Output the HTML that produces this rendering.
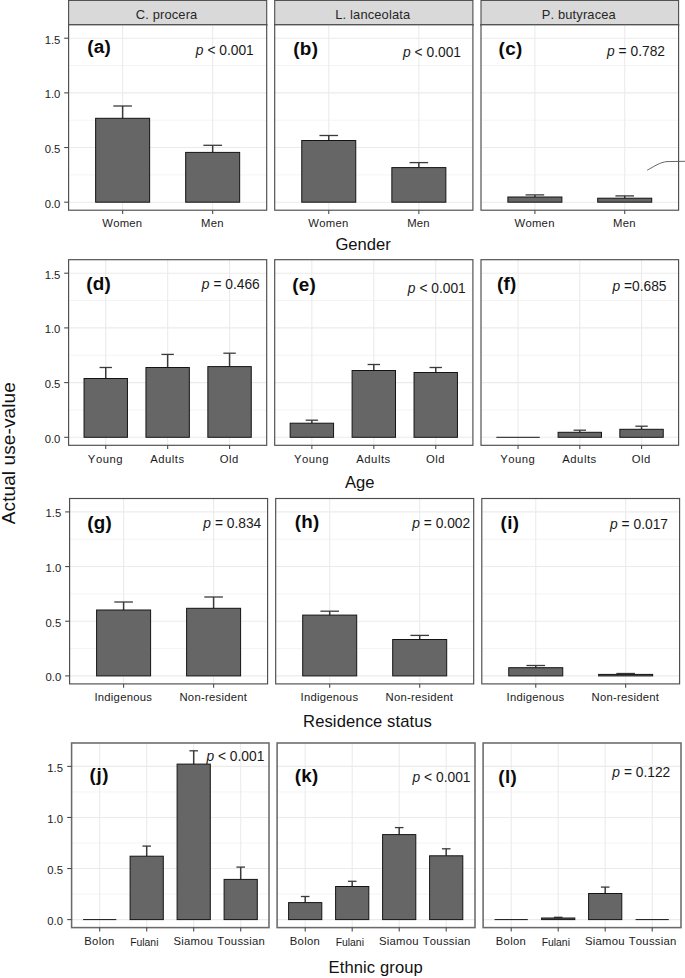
<!DOCTYPE html>
<html><head><meta charset="utf-8"><title>Actual use-value</title>
<style>
html,body{margin:0;padding:0;background:#ffffff;}
body{width:685px;height:978px;overflow:hidden;font-family:"Liberation Sans",sans-serif;}
svg{display:block;}
svg text{font-kerning:none;}
</style></head><body>
<svg width="685" height="978" viewBox="0 0 685 978" font-family="'Liberation Sans', sans-serif">
<rect x="0" y="0" width="685" height="978" fill="#ffffff"/>
<rect x="68.6" y="0.4" width="198.1" height="24.4" fill="#d9d9d9" stroke="#4c4c4c" stroke-width="1.1"/>
<text x="166.6" y="19.1" font-size="12.9" text-anchor="middle" fill="#262626" letter-spacing="0.15">C. procera</text>
<rect x="274.7" y="0.4" width="198.2" height="24.4" fill="#d9d9d9" stroke="#4c4c4c" stroke-width="1.1"/>
<text x="372.8" y="19.1" font-size="12.9" text-anchor="middle" fill="#262626" letter-spacing="0.15">L. lanceolata</text>
<rect x="481.0" y="0.4" width="197.6" height="24.4" fill="#d9d9d9" stroke="#4c4c4c" stroke-width="1.1"/>
<text x="578.8" y="19.1" font-size="12.9" text-anchor="middle" fill="#262626" letter-spacing="0.15">P. butyracea</text>
<line x1="68.05" x2="267.25" y1="24.9" y2="24.9" stroke="#4c4c4c" stroke-width="1.9"/>
<line x1="274.15" x2="473.45" y1="24.9" y2="24.9" stroke="#4c4c4c" stroke-width="1.9"/>
<line x1="480.45" x2="679.15" y1="24.9" y2="24.9" stroke="#4c4c4c" stroke-width="1.9"/>
<rect x="68.6" y="24.8" width="198.1" height="185.4" fill="#ffffff"/>
<line x1="68.6" x2="266.7" y1="174.87" y2="174.87" stroke="#f3f3f3" stroke-width="0.9"/>
<line x1="68.6" x2="266.7" y1="120.20" y2="120.20" stroke="#f3f3f3" stroke-width="0.9"/>
<line x1="68.6" x2="266.7" y1="65.53" y2="65.53" stroke="#f3f3f3" stroke-width="0.9"/>
<line x1="68.6" x2="266.7" y1="202.20" y2="202.20" stroke="#ebebeb" stroke-width="1.1"/>
<line x1="68.6" x2="266.7" y1="147.53" y2="147.53" stroke="#ebebeb" stroke-width="1.1"/>
<line x1="68.6" x2="266.7" y1="92.87" y2="92.87" stroke="#ebebeb" stroke-width="1.1"/>
<line x1="68.6" x2="266.7" y1="38.20" y2="38.20" stroke="#ebebeb" stroke-width="1.1"/>
<line x1="122.63" x2="122.63" y1="24.8" y2="210.2" stroke="#ebebeb" stroke-width="1.1"/>
<line x1="212.67" x2="212.67" y1="24.8" y2="210.2" stroke="#ebebeb" stroke-width="1.1"/>
<line x1="122.63" x2="122.63" y1="106.00" y2="118.30" stroke="#3a3a3a" stroke-width="1.5"/>
<line x1="113.33" x2="131.93" y1="106.00" y2="106.00" stroke="#3a3a3a" stroke-width="1.3"/>
<rect x="95.63" y="118.30" width="54.00" height="83.90" fill="#666666" stroke="#141414" stroke-width="1"/>
<line x1="212.67" x2="212.67" y1="145.30" y2="152.40" stroke="#3a3a3a" stroke-width="1.5"/>
<line x1="203.37" x2="221.97" y1="145.30" y2="145.30" stroke="#3a3a3a" stroke-width="1.3"/>
<rect x="185.67" y="152.40" width="54.00" height="49.80" fill="#666666" stroke="#141414" stroke-width="1"/>
<rect x="68.6" y="24.8" width="198.1" height="185.4" fill="none" stroke="#4c4c4c" stroke-width="1.15"/>
<line x1="122.63" x2="122.63" y1="210.2" y2="214.00" stroke="#4c4c4c" stroke-width="1.1"/>
<text x="122.33" y="227.20" font-size="11.3" text-anchor="middle" fill="#1c1c1c" letter-spacing="0.25">Women</text>
<line x1="212.67" x2="212.67" y1="210.2" y2="214.00" stroke="#4c4c4c" stroke-width="1.1"/>
<text x="212.37" y="227.20" font-size="11.3" text-anchor="middle" fill="#1c1c1c" letter-spacing="0.25">Men</text>
<text transform="translate(87.30,53.20) scale(1.0,1)" font-size="18.9" font-weight="bold" fill="#0a0a0a" letter-spacing="0.25">(a)</text>
<text x="253.80" y="55.20" font-size="13.8" text-anchor="end" fill="#1a1a1a"><tspan font-style="italic">p</tspan> &lt; 0.001</text>
<rect x="274.7" y="24.8" width="198.2" height="185.4" fill="#ffffff"/>
<line x1="274.7" x2="472.9" y1="174.87" y2="174.87" stroke="#f3f3f3" stroke-width="0.9"/>
<line x1="274.7" x2="472.9" y1="120.20" y2="120.20" stroke="#f3f3f3" stroke-width="0.9"/>
<line x1="274.7" x2="472.9" y1="65.53" y2="65.53" stroke="#f3f3f3" stroke-width="0.9"/>
<line x1="274.7" x2="472.9" y1="202.20" y2="202.20" stroke="#ebebeb" stroke-width="1.1"/>
<line x1="274.7" x2="472.9" y1="147.53" y2="147.53" stroke="#ebebeb" stroke-width="1.1"/>
<line x1="274.7" x2="472.9" y1="92.87" y2="92.87" stroke="#ebebeb" stroke-width="1.1"/>
<line x1="274.7" x2="472.9" y1="38.20" y2="38.20" stroke="#ebebeb" stroke-width="1.1"/>
<line x1="328.75" x2="328.75" y1="24.8" y2="210.2" stroke="#ebebeb" stroke-width="1.1"/>
<line x1="418.85" x2="418.85" y1="24.8" y2="210.2" stroke="#ebebeb" stroke-width="1.1"/>
<line x1="328.75" x2="328.75" y1="135.50" y2="140.50" stroke="#3a3a3a" stroke-width="1.5"/>
<line x1="319.45" x2="338.05" y1="135.50" y2="135.50" stroke="#3a3a3a" stroke-width="1.3"/>
<rect x="301.75" y="140.50" width="54.00" height="61.70" fill="#666666" stroke="#141414" stroke-width="1"/>
<line x1="418.85" x2="418.85" y1="162.60" y2="167.60" stroke="#3a3a3a" stroke-width="1.5"/>
<line x1="409.55" x2="428.15" y1="162.60" y2="162.60" stroke="#3a3a3a" stroke-width="1.3"/>
<rect x="391.85" y="167.60" width="54.00" height="34.60" fill="#666666" stroke="#141414" stroke-width="1"/>
<rect x="274.7" y="24.8" width="198.2" height="185.4" fill="none" stroke="#4c4c4c" stroke-width="1.15"/>
<line x1="328.75" x2="328.75" y1="210.2" y2="214.00" stroke="#4c4c4c" stroke-width="1.1"/>
<text x="328.45" y="227.20" font-size="11.3" text-anchor="middle" fill="#1c1c1c" letter-spacing="0.25">Women</text>
<line x1="418.85" x2="418.85" y1="210.2" y2="214.00" stroke="#4c4c4c" stroke-width="1.1"/>
<text x="418.55" y="227.20" font-size="11.3" text-anchor="middle" fill="#1c1c1c" letter-spacing="0.25">Men</text>
<text transform="translate(293.30,55.40) scale(1.0,1)" font-size="18.9" font-weight="bold" fill="#0a0a0a" letter-spacing="0.25">(b)</text>
<text x="461.00" y="56.70" font-size="13.8" text-anchor="end" fill="#1a1a1a"><tspan font-style="italic">p</tspan> &lt; 0.001</text>
<rect x="481.0" y="24.8" width="197.6" height="185.4" fill="#ffffff"/>
<line x1="481.0" x2="678.6" y1="174.87" y2="174.87" stroke="#f3f3f3" stroke-width="0.9"/>
<line x1="481.0" x2="678.6" y1="120.20" y2="120.20" stroke="#f3f3f3" stroke-width="0.9"/>
<line x1="481.0" x2="678.6" y1="65.53" y2="65.53" stroke="#f3f3f3" stroke-width="0.9"/>
<line x1="481.0" x2="678.6" y1="202.20" y2="202.20" stroke="#ebebeb" stroke-width="1.1"/>
<line x1="481.0" x2="678.6" y1="147.53" y2="147.53" stroke="#ebebeb" stroke-width="1.1"/>
<line x1="481.0" x2="678.6" y1="92.87" y2="92.87" stroke="#ebebeb" stroke-width="1.1"/>
<line x1="481.0" x2="678.6" y1="38.20" y2="38.20" stroke="#ebebeb" stroke-width="1.1"/>
<line x1="534.89" x2="534.89" y1="24.8" y2="210.2" stroke="#ebebeb" stroke-width="1.1"/>
<line x1="624.71" x2="624.71" y1="24.8" y2="210.2" stroke="#ebebeb" stroke-width="1.1"/>
<line x1="534.89" x2="534.89" y1="194.90" y2="197.00" stroke="#3a3a3a" stroke-width="1.5"/>
<line x1="525.59" x2="544.19" y1="194.90" y2="194.90" stroke="#3a3a3a" stroke-width="1.3"/>
<rect x="507.89" y="197.00" width="54.00" height="5.20" fill="#666666" stroke="#141414" stroke-width="1"/>
<line x1="624.71" x2="624.71" y1="195.90" y2="198.20" stroke="#3a3a3a" stroke-width="1.5"/>
<line x1="615.41" x2="634.01" y1="195.90" y2="195.90" stroke="#3a3a3a" stroke-width="1.3"/>
<rect x="597.71" y="198.20" width="54.00" height="4.00" fill="#666666" stroke="#141414" stroke-width="1"/>
<rect x="481.0" y="24.8" width="197.6" height="185.4" fill="none" stroke="#4c4c4c" stroke-width="1.15"/>
<line x1="534.89" x2="534.89" y1="210.2" y2="214.00" stroke="#4c4c4c" stroke-width="1.1"/>
<text x="534.59" y="227.20" font-size="11.3" text-anchor="middle" fill="#1c1c1c" letter-spacing="0.25">Women</text>
<line x1="624.71" x2="624.71" y1="210.2" y2="214.00" stroke="#4c4c4c" stroke-width="1.1"/>
<text x="624.41" y="227.20" font-size="11.3" text-anchor="middle" fill="#1c1c1c" letter-spacing="0.25">Men</text>
<text transform="translate(498.60,54.90) scale(1.0,1)" font-size="18.9" font-weight="bold" fill="#0a0a0a" letter-spacing="0.25">(c)</text>
<text x="665.00" y="56.10" font-size="13.8" text-anchor="end" fill="#1a1a1a"><tspan font-style="italic">p</tspan> = 0.782</text>
<line x1="64.20" x2="68.6" y1="202.20" y2="202.20" stroke="#4c4c4c" stroke-width="1.1"/>
<text x="60.4" y="207.50" font-size="11.3" text-anchor="end" fill="#1c1c1c">0.0</text>
<line x1="64.20" x2="68.6" y1="147.53" y2="147.53" stroke="#4c4c4c" stroke-width="1.1"/>
<text x="60.4" y="152.83" font-size="11.3" text-anchor="end" fill="#1c1c1c">0.5</text>
<line x1="64.20" x2="68.6" y1="92.87" y2="92.87" stroke="#4c4c4c" stroke-width="1.1"/>
<text x="60.4" y="98.17" font-size="11.3" text-anchor="end" fill="#1c1c1c">1.0</text>
<line x1="64.20" x2="68.6" y1="38.20" y2="38.20" stroke="#4c4c4c" stroke-width="1.1"/>
<text x="60.4" y="43.50" font-size="11.3" text-anchor="end" fill="#1c1c1c">1.5</text>
<rect x="68.6" y="259.7" width="198.1" height="185.6" fill="#ffffff"/>
<line x1="68.6" x2="266.7" y1="409.95" y2="409.95" stroke="#f3f3f3" stroke-width="0.9"/>
<line x1="68.6" x2="266.7" y1="355.25" y2="355.25" stroke="#f3f3f3" stroke-width="0.9"/>
<line x1="68.6" x2="266.7" y1="300.55" y2="300.55" stroke="#f3f3f3" stroke-width="0.9"/>
<line x1="68.6" x2="266.7" y1="437.30" y2="437.30" stroke="#ebebeb" stroke-width="1.1"/>
<line x1="68.6" x2="266.7" y1="382.60" y2="382.60" stroke="#ebebeb" stroke-width="1.1"/>
<line x1="68.6" x2="266.7" y1="327.90" y2="327.90" stroke="#ebebeb" stroke-width="1.1"/>
<line x1="68.6" x2="266.7" y1="273.20" y2="273.20" stroke="#ebebeb" stroke-width="1.1"/>
<line x1="105.74" x2="105.74" y1="259.7" y2="445.3" stroke="#ebebeb" stroke-width="1.1"/>
<line x1="167.65" x2="167.65" y1="259.7" y2="445.3" stroke="#ebebeb" stroke-width="1.1"/>
<line x1="229.56" x2="229.56" y1="259.7" y2="445.3" stroke="#ebebeb" stroke-width="1.1"/>
<line x1="105.74" x2="105.74" y1="367.50" y2="378.50" stroke="#3a3a3a" stroke-width="1.5"/>
<line x1="99.54" x2="111.94" y1="367.50" y2="367.50" stroke="#3a3a3a" stroke-width="1.3"/>
<rect x="84.04" y="378.50" width="43.40" height="58.80" fill="#666666" stroke="#141414" stroke-width="1"/>
<line x1="167.65" x2="167.65" y1="354.40" y2="367.50" stroke="#3a3a3a" stroke-width="1.5"/>
<line x1="161.45" x2="173.85" y1="354.40" y2="354.40" stroke="#3a3a3a" stroke-width="1.3"/>
<rect x="145.95" y="367.50" width="43.40" height="69.80" fill="#666666" stroke="#141414" stroke-width="1"/>
<line x1="229.56" x2="229.56" y1="353.20" y2="366.60" stroke="#3a3a3a" stroke-width="1.5"/>
<line x1="223.36" x2="235.76" y1="353.20" y2="353.20" stroke="#3a3a3a" stroke-width="1.3"/>
<rect x="207.86" y="366.60" width="43.40" height="70.70" fill="#666666" stroke="#141414" stroke-width="1"/>
<rect x="68.6" y="259.7" width="198.1" height="185.6" fill="none" stroke="#4c4c4c" stroke-width="1.15"/>
<line x1="105.74" x2="105.74" y1="445.3" y2="449.10" stroke="#4c4c4c" stroke-width="1.1"/>
<text x="105.44" y="462.90" font-size="11.3" text-anchor="middle" fill="#1c1c1c" letter-spacing="0.5">Young</text>
<line x1="167.65" x2="167.65" y1="445.3" y2="449.10" stroke="#4c4c4c" stroke-width="1.1"/>
<text x="167.35" y="462.90" font-size="11.3" text-anchor="middle" fill="#1c1c1c" letter-spacing="0.5">Adults</text>
<line x1="229.56" x2="229.56" y1="445.3" y2="449.10" stroke="#4c4c4c" stroke-width="1.1"/>
<text x="229.26" y="462.90" font-size="11.3" text-anchor="middle" fill="#1c1c1c" letter-spacing="0.5">Old</text>
<text transform="translate(86.20,290.20) scale(1.0,1)" font-size="18.9" font-weight="bold" fill="#0a0a0a" letter-spacing="0.25">(d)</text>
<text x="259.80" y="288.50" font-size="13.8" text-anchor="end" fill="#1a1a1a"><tspan font-style="italic">p</tspan> = 0.466</text>
<rect x="274.7" y="259.7" width="198.2" height="185.6" fill="#ffffff"/>
<line x1="274.7" x2="472.9" y1="409.95" y2="409.95" stroke="#f3f3f3" stroke-width="0.9"/>
<line x1="274.7" x2="472.9" y1="355.25" y2="355.25" stroke="#f3f3f3" stroke-width="0.9"/>
<line x1="274.7" x2="472.9" y1="300.55" y2="300.55" stroke="#f3f3f3" stroke-width="0.9"/>
<line x1="274.7" x2="472.9" y1="437.30" y2="437.30" stroke="#ebebeb" stroke-width="1.1"/>
<line x1="274.7" x2="472.9" y1="382.60" y2="382.60" stroke="#ebebeb" stroke-width="1.1"/>
<line x1="274.7" x2="472.9" y1="327.90" y2="327.90" stroke="#ebebeb" stroke-width="1.1"/>
<line x1="274.7" x2="472.9" y1="273.20" y2="273.20" stroke="#ebebeb" stroke-width="1.1"/>
<line x1="311.86" x2="311.86" y1="259.7" y2="445.3" stroke="#ebebeb" stroke-width="1.1"/>
<line x1="373.80" x2="373.80" y1="259.7" y2="445.3" stroke="#ebebeb" stroke-width="1.1"/>
<line x1="435.74" x2="435.74" y1="259.7" y2="445.3" stroke="#ebebeb" stroke-width="1.1"/>
<line x1="311.86" x2="311.86" y1="420.20" y2="423.20" stroke="#3a3a3a" stroke-width="1.5"/>
<line x1="305.66" x2="318.06" y1="420.20" y2="420.20" stroke="#3a3a3a" stroke-width="1.3"/>
<rect x="290.16" y="423.20" width="43.40" height="14.10" fill="#666666" stroke="#141414" stroke-width="1"/>
<line x1="373.80" x2="373.80" y1="364.50" y2="370.50" stroke="#3a3a3a" stroke-width="1.5"/>
<line x1="367.60" x2="380.00" y1="364.50" y2="364.50" stroke="#3a3a3a" stroke-width="1.3"/>
<rect x="352.10" y="370.50" width="43.40" height="66.80" fill="#666666" stroke="#141414" stroke-width="1"/>
<line x1="435.74" x2="435.74" y1="367.50" y2="372.50" stroke="#3a3a3a" stroke-width="1.5"/>
<line x1="429.54" x2="441.94" y1="367.50" y2="367.50" stroke="#3a3a3a" stroke-width="1.3"/>
<rect x="414.04" y="372.50" width="43.40" height="64.80" fill="#666666" stroke="#141414" stroke-width="1"/>
<rect x="274.7" y="259.7" width="198.2" height="185.6" fill="none" stroke="#4c4c4c" stroke-width="1.15"/>
<line x1="311.86" x2="311.86" y1="445.3" y2="449.10" stroke="#4c4c4c" stroke-width="1.1"/>
<text x="311.56" y="462.90" font-size="11.3" text-anchor="middle" fill="#1c1c1c" letter-spacing="0.5">Young</text>
<line x1="373.80" x2="373.80" y1="445.3" y2="449.10" stroke="#4c4c4c" stroke-width="1.1"/>
<text x="373.50" y="462.90" font-size="11.3" text-anchor="middle" fill="#1c1c1c" letter-spacing="0.5">Adults</text>
<line x1="435.74" x2="435.74" y1="445.3" y2="449.10" stroke="#4c4c4c" stroke-width="1.1"/>
<text x="435.44" y="462.90" font-size="11.3" text-anchor="middle" fill="#1c1c1c" letter-spacing="0.5">Old</text>
<text transform="translate(292.20,290.60) scale(1.0,1)" font-size="18.9" font-weight="bold" fill="#0a0a0a" letter-spacing="0.25">(e)</text>
<text x="465.80" y="293.20" font-size="13.8" text-anchor="end" fill="#1a1a1a"><tspan font-style="italic">p</tspan> &lt; 0.001</text>
<rect x="481.0" y="259.7" width="197.6" height="185.6" fill="#ffffff"/>
<line x1="481.0" x2="678.6" y1="409.95" y2="409.95" stroke="#f3f3f3" stroke-width="0.9"/>
<line x1="481.0" x2="678.6" y1="355.25" y2="355.25" stroke="#f3f3f3" stroke-width="0.9"/>
<line x1="481.0" x2="678.6" y1="300.55" y2="300.55" stroke="#f3f3f3" stroke-width="0.9"/>
<line x1="481.0" x2="678.6" y1="437.30" y2="437.30" stroke="#ebebeb" stroke-width="1.1"/>
<line x1="481.0" x2="678.6" y1="382.60" y2="382.60" stroke="#ebebeb" stroke-width="1.1"/>
<line x1="481.0" x2="678.6" y1="327.90" y2="327.90" stroke="#ebebeb" stroke-width="1.1"/>
<line x1="481.0" x2="678.6" y1="273.20" y2="273.20" stroke="#ebebeb" stroke-width="1.1"/>
<line x1="518.05" x2="518.05" y1="259.7" y2="445.3" stroke="#ebebeb" stroke-width="1.1"/>
<line x1="579.80" x2="579.80" y1="259.7" y2="445.3" stroke="#ebebeb" stroke-width="1.1"/>
<line x1="641.55" x2="641.55" y1="259.7" y2="445.3" stroke="#ebebeb" stroke-width="1.1"/>
<line x1="496.35" x2="539.75" y1="437.3" y2="437.3" stroke="#141414" stroke-width="1"/>
<line x1="579.80" x2="579.80" y1="430.20" y2="432.30" stroke="#3a3a3a" stroke-width="1.5"/>
<line x1="573.60" x2="586.00" y1="430.20" y2="430.20" stroke="#3a3a3a" stroke-width="1.3"/>
<rect x="558.10" y="432.30" width="43.40" height="5.00" fill="#666666" stroke="#141414" stroke-width="1"/>
<line x1="641.55" x2="641.55" y1="426.20" y2="429.30" stroke="#3a3a3a" stroke-width="1.5"/>
<line x1="635.35" x2="647.75" y1="426.20" y2="426.20" stroke="#3a3a3a" stroke-width="1.3"/>
<rect x="619.85" y="429.30" width="43.40" height="8.00" fill="#666666" stroke="#141414" stroke-width="1"/>
<rect x="481.0" y="259.7" width="197.6" height="185.6" fill="none" stroke="#4c4c4c" stroke-width="1.15"/>
<line x1="518.05" x2="518.05" y1="445.3" y2="449.10" stroke="#4c4c4c" stroke-width="1.1"/>
<text x="517.75" y="462.90" font-size="11.3" text-anchor="middle" fill="#1c1c1c" letter-spacing="0.5">Young</text>
<line x1="579.80" x2="579.80" y1="445.3" y2="449.10" stroke="#4c4c4c" stroke-width="1.1"/>
<text x="579.50" y="462.90" font-size="11.3" text-anchor="middle" fill="#1c1c1c" letter-spacing="0.5">Adults</text>
<line x1="641.55" x2="641.55" y1="445.3" y2="449.10" stroke="#4c4c4c" stroke-width="1.1"/>
<text x="641.25" y="462.90" font-size="11.3" text-anchor="middle" fill="#1c1c1c" letter-spacing="0.5">Old</text>
<text transform="translate(496.90,290.40) scale(1.0,1)" font-size="18.9" font-weight="bold" fill="#0a0a0a" letter-spacing="0.25">(f)</text>
<text x="666.50" y="290.70" font-size="13.8" text-anchor="end" fill="#1a1a1a"><tspan font-style="italic">p</tspan> =0.685</text>
<line x1="64.20" x2="68.6" y1="437.30" y2="437.30" stroke="#4c4c4c" stroke-width="1.1"/>
<text x="60.4" y="442.60" font-size="11.3" text-anchor="end" fill="#1c1c1c">0.0</text>
<line x1="64.20" x2="68.6" y1="382.60" y2="382.60" stroke="#4c4c4c" stroke-width="1.1"/>
<text x="60.4" y="387.90" font-size="11.3" text-anchor="end" fill="#1c1c1c">0.5</text>
<line x1="64.20" x2="68.6" y1="327.90" y2="327.90" stroke="#4c4c4c" stroke-width="1.1"/>
<text x="60.4" y="333.20" font-size="11.3" text-anchor="end" fill="#1c1c1c">1.0</text>
<line x1="64.20" x2="68.6" y1="273.20" y2="273.20" stroke="#4c4c4c" stroke-width="1.1"/>
<text x="60.4" y="278.50" font-size="11.3" text-anchor="end" fill="#1c1c1c">1.5</text>
<rect x="69.6" y="498.5" width="198.0" height="185.4" fill="#ffffff"/>
<line x1="69.6" x2="267.6" y1="648.57" y2="648.57" stroke="#f3f3f3" stroke-width="0.9"/>
<line x1="69.6" x2="267.6" y1="593.90" y2="593.90" stroke="#f3f3f3" stroke-width="0.9"/>
<line x1="69.6" x2="267.6" y1="539.23" y2="539.23" stroke="#f3f3f3" stroke-width="0.9"/>
<line x1="69.6" x2="267.6" y1="675.90" y2="675.90" stroke="#ebebeb" stroke-width="1.1"/>
<line x1="69.6" x2="267.6" y1="621.23" y2="621.23" stroke="#ebebeb" stroke-width="1.1"/>
<line x1="69.6" x2="267.6" y1="566.57" y2="566.57" stroke="#ebebeb" stroke-width="1.1"/>
<line x1="69.6" x2="267.6" y1="511.90" y2="511.90" stroke="#ebebeb" stroke-width="1.1"/>
<line x1="123.60" x2="123.60" y1="498.5" y2="683.9" stroke="#ebebeb" stroke-width="1.1"/>
<line x1="213.60" x2="213.60" y1="498.5" y2="683.9" stroke="#ebebeb" stroke-width="1.1"/>
<line x1="123.60" x2="123.60" y1="602.00" y2="610.00" stroke="#3a3a3a" stroke-width="1.5"/>
<line x1="114.30" x2="132.90" y1="602.00" y2="602.00" stroke="#3a3a3a" stroke-width="1.3"/>
<rect x="96.60" y="610.00" width="54.00" height="65.90" fill="#666666" stroke="#141414" stroke-width="1"/>
<line x1="213.60" x2="213.60" y1="597.00" y2="608.30" stroke="#3a3a3a" stroke-width="1.5"/>
<line x1="204.30" x2="222.90" y1="597.00" y2="597.00" stroke="#3a3a3a" stroke-width="1.3"/>
<rect x="186.60" y="608.30" width="54.00" height="67.60" fill="#666666" stroke="#141414" stroke-width="1"/>
<rect x="69.6" y="498.5" width="198.0" height="185.4" fill="none" stroke="#4c4c4c" stroke-width="1.15"/>
<line x1="123.60" x2="123.60" y1="683.9" y2="687.70" stroke="#4c4c4c" stroke-width="1.1"/>
<text x="123.30" y="701.30" font-size="11.3" text-anchor="middle" fill="#1c1c1c" letter-spacing="0.25">Indigenous</text>
<line x1="213.60" x2="213.60" y1="683.9" y2="687.70" stroke="#4c4c4c" stroke-width="1.1"/>
<text x="213.30" y="701.30" font-size="11.3" text-anchor="middle" fill="#1c1c1c" letter-spacing="0.25">Non-resident</text>
<text transform="translate(87.30,529.30) scale(1.0,1)" font-size="18.8" font-weight="bold" fill="#0a0a0a" letter-spacing="0.25">(g)</text>
<text x="261.30" y="528.40" font-size="13.8" text-anchor="end" fill="#1a1a1a"><tspan font-style="italic">p</tspan> = 0.834</text>
<rect x="275.7" y="498.5" width="198.0" height="185.4" fill="#ffffff"/>
<line x1="275.7" x2="473.7" y1="648.57" y2="648.57" stroke="#f3f3f3" stroke-width="0.9"/>
<line x1="275.7" x2="473.7" y1="593.90" y2="593.90" stroke="#f3f3f3" stroke-width="0.9"/>
<line x1="275.7" x2="473.7" y1="539.23" y2="539.23" stroke="#f3f3f3" stroke-width="0.9"/>
<line x1="275.7" x2="473.7" y1="675.90" y2="675.90" stroke="#ebebeb" stroke-width="1.1"/>
<line x1="275.7" x2="473.7" y1="621.23" y2="621.23" stroke="#ebebeb" stroke-width="1.1"/>
<line x1="275.7" x2="473.7" y1="566.57" y2="566.57" stroke="#ebebeb" stroke-width="1.1"/>
<line x1="275.7" x2="473.7" y1="511.90" y2="511.90" stroke="#ebebeb" stroke-width="1.1"/>
<line x1="329.70" x2="329.70" y1="498.5" y2="683.9" stroke="#ebebeb" stroke-width="1.1"/>
<line x1="419.70" x2="419.70" y1="498.5" y2="683.9" stroke="#ebebeb" stroke-width="1.1"/>
<line x1="329.70" x2="329.70" y1="611.20" y2="615.10" stroke="#3a3a3a" stroke-width="1.5"/>
<line x1="320.40" x2="339.00" y1="611.20" y2="611.20" stroke="#3a3a3a" stroke-width="1.3"/>
<rect x="302.70" y="615.10" width="54.00" height="60.80" fill="#666666" stroke="#141414" stroke-width="1"/>
<line x1="419.70" x2="419.70" y1="635.40" y2="639.50" stroke="#3a3a3a" stroke-width="1.5"/>
<line x1="410.40" x2="429.00" y1="635.40" y2="635.40" stroke="#3a3a3a" stroke-width="1.3"/>
<rect x="392.70" y="639.50" width="54.00" height="36.40" fill="#666666" stroke="#141414" stroke-width="1"/>
<rect x="275.7" y="498.5" width="198.0" height="185.4" fill="none" stroke="#4c4c4c" stroke-width="1.15"/>
<line x1="329.70" x2="329.70" y1="683.9" y2="687.70" stroke="#4c4c4c" stroke-width="1.1"/>
<text x="329.40" y="701.30" font-size="11.3" text-anchor="middle" fill="#1c1c1c" letter-spacing="0.25">Indigenous</text>
<line x1="419.70" x2="419.70" y1="683.9" y2="687.70" stroke="#4c4c4c" stroke-width="1.1"/>
<text x="419.40" y="701.30" font-size="11.3" text-anchor="middle" fill="#1c1c1c" letter-spacing="0.25">Non-resident</text>
<text transform="translate(294.70,527.70) scale(1.0,1)" font-size="18.8" font-weight="bold" fill="#0a0a0a" letter-spacing="0.25">(h)</text>
<text x="470.20" y="527.50" font-size="13.8" text-anchor="end" fill="#1a1a1a"><tspan font-style="italic">p</tspan> = 0.002</text>
<rect x="481.8" y="498.5" width="197.8" height="185.4" fill="#ffffff"/>
<line x1="481.8" x2="679.6" y1="648.57" y2="648.57" stroke="#f3f3f3" stroke-width="0.9"/>
<line x1="481.8" x2="679.6" y1="593.90" y2="593.90" stroke="#f3f3f3" stroke-width="0.9"/>
<line x1="481.8" x2="679.6" y1="539.23" y2="539.23" stroke="#f3f3f3" stroke-width="0.9"/>
<line x1="481.8" x2="679.6" y1="675.90" y2="675.90" stroke="#ebebeb" stroke-width="1.1"/>
<line x1="481.8" x2="679.6" y1="621.23" y2="621.23" stroke="#ebebeb" stroke-width="1.1"/>
<line x1="481.8" x2="679.6" y1="566.57" y2="566.57" stroke="#ebebeb" stroke-width="1.1"/>
<line x1="481.8" x2="679.6" y1="511.90" y2="511.90" stroke="#ebebeb" stroke-width="1.1"/>
<line x1="535.75" x2="535.75" y1="498.5" y2="683.9" stroke="#ebebeb" stroke-width="1.1"/>
<line x1="625.65" x2="625.65" y1="498.5" y2="683.9" stroke="#ebebeb" stroke-width="1.1"/>
<line x1="535.75" x2="535.75" y1="665.50" y2="667.70" stroke="#3a3a3a" stroke-width="1.5"/>
<line x1="526.45" x2="545.05" y1="665.50" y2="665.50" stroke="#3a3a3a" stroke-width="1.3"/>
<rect x="508.75" y="667.70" width="54.00" height="8.20" fill="#666666" stroke="#141414" stroke-width="1"/>
<line x1="625.65" x2="625.65" y1="673.50" y2="674.40" stroke="#3a3a3a" stroke-width="1.5"/>
<line x1="616.35" x2="634.95" y1="673.50" y2="673.50" stroke="#3a3a3a" stroke-width="1.3"/>
<rect x="598.65" y="674.40" width="54.00" height="1.50" fill="#666666" stroke="#141414" stroke-width="1"/>
<rect x="481.8" y="498.5" width="197.8" height="185.4" fill="none" stroke="#4c4c4c" stroke-width="1.15"/>
<line x1="535.75" x2="535.75" y1="683.9" y2="687.70" stroke="#4c4c4c" stroke-width="1.1"/>
<text x="535.45" y="701.30" font-size="11.3" text-anchor="middle" fill="#1c1c1c" letter-spacing="0.25">Indigenous</text>
<line x1="625.65" x2="625.65" y1="683.9" y2="687.70" stroke="#4c4c4c" stroke-width="1.1"/>
<text x="625.35" y="701.30" font-size="11.3" text-anchor="middle" fill="#1c1c1c" letter-spacing="0.25">Non-resident</text>
<text transform="translate(500.50,528.70) scale(1.0,1)" font-size="18.8" font-weight="bold" fill="#0a0a0a" letter-spacing="0.45">(i)</text>
<text x="668.00" y="529.40" font-size="13.8" text-anchor="end" fill="#1a1a1a"><tspan font-style="italic">p</tspan> = 0.017</text>
<line x1="65.20" x2="69.6" y1="675.90" y2="675.90" stroke="#4c4c4c" stroke-width="1.1"/>
<text x="61.2" y="681.20" font-size="11.3" text-anchor="end" fill="#1c1c1c">0.0</text>
<line x1="65.20" x2="69.6" y1="621.23" y2="621.23" stroke="#4c4c4c" stroke-width="1.1"/>
<text x="61.2" y="626.53" font-size="11.3" text-anchor="end" fill="#1c1c1c">0.5</text>
<line x1="65.20" x2="69.6" y1="566.57" y2="566.57" stroke="#4c4c4c" stroke-width="1.1"/>
<text x="61.2" y="571.87" font-size="11.3" text-anchor="end" fill="#1c1c1c">1.0</text>
<line x1="65.20" x2="69.6" y1="511.90" y2="511.90" stroke="#4c4c4c" stroke-width="1.1"/>
<text x="61.2" y="517.20" font-size="11.3" text-anchor="end" fill="#1c1c1c">1.5</text>
<rect x="71.6" y="743.0" width="197.4" height="184.6" fill="#ffffff"/>
<line x1="71.6" x2="269.0" y1="894.07" y2="894.07" stroke="#f3f3f3" stroke-width="0.9"/>
<line x1="71.6" x2="269.0" y1="843.00" y2="843.00" stroke="#f3f3f3" stroke-width="0.9"/>
<line x1="71.6" x2="269.0" y1="791.93" y2="791.93" stroke="#f3f3f3" stroke-width="0.9"/>
<line x1="71.6" x2="269.0" y1="919.60" y2="919.60" stroke="#ebebeb" stroke-width="1.1"/>
<line x1="71.6" x2="269.0" y1="868.53" y2="868.53" stroke="#ebebeb" stroke-width="1.1"/>
<line x1="71.6" x2="269.0" y1="817.47" y2="817.47" stroke="#ebebeb" stroke-width="1.1"/>
<line x1="71.6" x2="269.0" y1="766.40" y2="766.40" stroke="#ebebeb" stroke-width="1.1"/>
<line x1="99.70" x2="99.70" y1="743.0" y2="927.6" stroke="#ebebeb" stroke-width="1.1"/>
<line x1="146.70" x2="146.70" y1="743.0" y2="927.6" stroke="#ebebeb" stroke-width="1.1"/>
<line x1="193.70" x2="193.70" y1="743.0" y2="927.6" stroke="#ebebeb" stroke-width="1.1"/>
<line x1="240.70" x2="240.70" y1="743.0" y2="927.6" stroke="#ebebeb" stroke-width="1.1"/>
<line x1="83.10" x2="116.30" y1="919.6" y2="919.6" stroke="#141414" stroke-width="1"/>
<line x1="146.70" x2="146.70" y1="846.10" y2="856.20" stroke="#3a3a3a" stroke-width="1.5"/>
<line x1="142.40" x2="151.00" y1="846.10" y2="846.10" stroke="#3a3a3a" stroke-width="1.3"/>
<rect x="130.10" y="856.20" width="33.20" height="63.40" fill="#666666" stroke="#141414" stroke-width="1"/>
<line x1="193.70" x2="193.70" y1="750.80" y2="764.10" stroke="#3a3a3a" stroke-width="1.5"/>
<line x1="189.40" x2="198.00" y1="750.80" y2="750.80" stroke="#3a3a3a" stroke-width="1.3"/>
<rect x="177.10" y="764.10" width="33.20" height="155.50" fill="#666666" stroke="#141414" stroke-width="1"/>
<line x1="240.70" x2="240.70" y1="867.10" y2="879.40" stroke="#3a3a3a" stroke-width="1.5"/>
<line x1="236.40" x2="245.00" y1="867.10" y2="867.10" stroke="#3a3a3a" stroke-width="1.3"/>
<rect x="224.10" y="879.40" width="33.20" height="40.20" fill="#666666" stroke="#141414" stroke-width="1"/>
<rect x="71.6" y="743.0" width="197.4" height="184.6" fill="none" stroke="#6a6a6a" stroke-width="1.55"/>
<line x1="99.70" x2="99.70" y1="927.6" y2="931.40" stroke="#4c4c4c" stroke-width="1.1"/>
<text x="99.40" y="944.60" font-size="11.3" text-anchor="middle" fill="#1c1c1c" letter-spacing="0.25">Bolon</text>
<line x1="146.70" x2="146.70" y1="927.6" y2="931.40" stroke="#4c4c4c" stroke-width="1.1"/>
<text x="144.30" y="945.60" font-size="10.4" text-anchor="middle" fill="#1c1c1c" letter-spacing="0">Fulani</text>
<line x1="193.70" x2="193.70" y1="927.6" y2="931.40" stroke="#4c4c4c" stroke-width="1.1"/>
<text x="193.40" y="944.60" font-size="11.3" text-anchor="middle" fill="#1c1c1c" letter-spacing="0.25">Siamou</text>
<line x1="240.70" x2="240.70" y1="927.6" y2="931.40" stroke="#4c4c4c" stroke-width="1.1"/>
<text x="241.10" y="944.60" font-size="11.3" text-anchor="middle" fill="#1c1c1c" letter-spacing="0.25">Toussian</text>
<text transform="translate(89.50,781.20) scale(1.0,1)" font-size="18.8" font-weight="bold" fill="#0a0a0a" letter-spacing="0.7">(j)</text>
<text x="264.40" y="760.90" font-size="13.8" text-anchor="end" fill="#1a1a1a"><tspan font-style="italic">p</tspan> &lt; 0.001</text>
<rect x="277.1" y="743.0" width="197.9" height="184.6" fill="#ffffff"/>
<line x1="277.1" x2="475.0" y1="894.07" y2="894.07" stroke="#f3f3f3" stroke-width="0.9"/>
<line x1="277.1" x2="475.0" y1="843.00" y2="843.00" stroke="#f3f3f3" stroke-width="0.9"/>
<line x1="277.1" x2="475.0" y1="791.93" y2="791.93" stroke="#f3f3f3" stroke-width="0.9"/>
<line x1="277.1" x2="475.0" y1="919.60" y2="919.60" stroke="#ebebeb" stroke-width="1.1"/>
<line x1="277.1" x2="475.0" y1="868.53" y2="868.53" stroke="#ebebeb" stroke-width="1.1"/>
<line x1="277.1" x2="475.0" y1="817.47" y2="817.47" stroke="#ebebeb" stroke-width="1.1"/>
<line x1="277.1" x2="475.0" y1="766.40" y2="766.40" stroke="#ebebeb" stroke-width="1.1"/>
<line x1="305.20" x2="305.20" y1="743.0" y2="927.6" stroke="#ebebeb" stroke-width="1.1"/>
<line x1="352.20" x2="352.20" y1="743.0" y2="927.6" stroke="#ebebeb" stroke-width="1.1"/>
<line x1="399.20" x2="399.20" y1="743.0" y2="927.6" stroke="#ebebeb" stroke-width="1.1"/>
<line x1="446.20" x2="446.20" y1="743.0" y2="927.6" stroke="#ebebeb" stroke-width="1.1"/>
<line x1="305.20" x2="305.20" y1="896.50" y2="902.60" stroke="#3a3a3a" stroke-width="1.5"/>
<line x1="300.90" x2="309.50" y1="896.50" y2="896.50" stroke="#3a3a3a" stroke-width="1.3"/>
<rect x="288.60" y="902.60" width="33.20" height="17.00" fill="#666666" stroke="#141414" stroke-width="1"/>
<line x1="352.20" x2="352.20" y1="881.30" y2="886.50" stroke="#3a3a3a" stroke-width="1.5"/>
<line x1="347.90" x2="356.50" y1="881.30" y2="881.30" stroke="#3a3a3a" stroke-width="1.3"/>
<rect x="335.60" y="886.50" width="33.20" height="33.10" fill="#666666" stroke="#141414" stroke-width="1"/>
<line x1="399.20" x2="399.20" y1="827.60" y2="834.60" stroke="#3a3a3a" stroke-width="1.5"/>
<line x1="394.90" x2="403.50" y1="827.60" y2="827.60" stroke="#3a3a3a" stroke-width="1.3"/>
<rect x="382.60" y="834.60" width="33.20" height="85.00" fill="#666666" stroke="#141414" stroke-width="1"/>
<line x1="446.20" x2="446.20" y1="848.80" y2="855.80" stroke="#3a3a3a" stroke-width="1.5"/>
<line x1="441.90" x2="450.50" y1="848.80" y2="848.80" stroke="#3a3a3a" stroke-width="1.3"/>
<rect x="429.60" y="855.80" width="33.20" height="63.80" fill="#666666" stroke="#141414" stroke-width="1"/>
<rect x="277.1" y="743.0" width="197.9" height="184.6" fill="none" stroke="#6a6a6a" stroke-width="1.55"/>
<line x1="305.20" x2="305.20" y1="927.6" y2="931.40" stroke="#4c4c4c" stroke-width="1.1"/>
<text x="304.90" y="944.60" font-size="11.3" text-anchor="middle" fill="#1c1c1c" letter-spacing="0.25">Bolon</text>
<line x1="352.20" x2="352.20" y1="927.6" y2="931.40" stroke="#4c4c4c" stroke-width="1.1"/>
<text x="349.80" y="945.60" font-size="10.4" text-anchor="middle" fill="#1c1c1c" letter-spacing="0">Fulani</text>
<line x1="399.20" x2="399.20" y1="927.6" y2="931.40" stroke="#4c4c4c" stroke-width="1.1"/>
<text x="398.90" y="944.60" font-size="11.3" text-anchor="middle" fill="#1c1c1c" letter-spacing="0.25">Siamou</text>
<line x1="446.20" x2="446.20" y1="927.6" y2="931.40" stroke="#4c4c4c" stroke-width="1.1"/>
<text x="446.60" y="944.60" font-size="11.3" text-anchor="middle" fill="#1c1c1c" letter-spacing="0.25">Toussian</text>
<text transform="translate(294.70,781.50) scale(1.0,1)" font-size="18.8" font-weight="bold" fill="#0a0a0a" letter-spacing="0.25">(k)</text>
<text x="470.50" y="781.60" font-size="13.8" text-anchor="end" fill="#1a1a1a"><tspan font-style="italic">p</tspan> &lt; 0.001</text>
<rect x="483.1" y="743.0" width="197.9" height="184.6" fill="#ffffff"/>
<line x1="483.1" x2="681.0" y1="894.07" y2="894.07" stroke="#f3f3f3" stroke-width="0.9"/>
<line x1="483.1" x2="681.0" y1="843.00" y2="843.00" stroke="#f3f3f3" stroke-width="0.9"/>
<line x1="483.1" x2="681.0" y1="791.93" y2="791.93" stroke="#f3f3f3" stroke-width="0.9"/>
<line x1="483.1" x2="681.0" y1="919.60" y2="919.60" stroke="#ebebeb" stroke-width="1.1"/>
<line x1="483.1" x2="681.0" y1="868.53" y2="868.53" stroke="#ebebeb" stroke-width="1.1"/>
<line x1="483.1" x2="681.0" y1="817.47" y2="817.47" stroke="#ebebeb" stroke-width="1.1"/>
<line x1="483.1" x2="681.0" y1="766.40" y2="766.40" stroke="#ebebeb" stroke-width="1.1"/>
<line x1="511.20" x2="511.20" y1="743.0" y2="927.6" stroke="#ebebeb" stroke-width="1.1"/>
<line x1="558.20" x2="558.20" y1="743.0" y2="927.6" stroke="#ebebeb" stroke-width="1.1"/>
<line x1="605.20" x2="605.20" y1="743.0" y2="927.6" stroke="#ebebeb" stroke-width="1.1"/>
<line x1="652.20" x2="652.20" y1="743.0" y2="927.6" stroke="#ebebeb" stroke-width="1.1"/>
<line x1="494.60" x2="527.80" y1="919.6" y2="919.6" stroke="#141414" stroke-width="1"/>
<line x1="558.20" x2="558.20" y1="917.30" y2="918.00" stroke="#3a3a3a" stroke-width="1.5"/>
<line x1="553.90" x2="562.50" y1="917.30" y2="917.30" stroke="#3a3a3a" stroke-width="1.3"/>
<rect x="541.60" y="918.00" width="33.20" height="1.60" fill="#666666" stroke="#141414" stroke-width="1"/>
<line x1="605.20" x2="605.20" y1="887.10" y2="893.50" stroke="#3a3a3a" stroke-width="1.5"/>
<line x1="600.90" x2="609.50" y1="887.10" y2="887.10" stroke="#3a3a3a" stroke-width="1.3"/>
<rect x="588.60" y="893.50" width="33.20" height="26.10" fill="#666666" stroke="#141414" stroke-width="1"/>
<line x1="635.60" x2="668.80" y1="919.6" y2="919.6" stroke="#141414" stroke-width="1"/>
<rect x="483.1" y="743.0" width="197.9" height="184.6" fill="none" stroke="#6a6a6a" stroke-width="1.55"/>
<line x1="511.20" x2="511.20" y1="927.6" y2="931.40" stroke="#4c4c4c" stroke-width="1.1"/>
<text x="510.90" y="944.60" font-size="11.3" text-anchor="middle" fill="#1c1c1c" letter-spacing="0.25">Bolon</text>
<line x1="558.20" x2="558.20" y1="927.6" y2="931.40" stroke="#4c4c4c" stroke-width="1.1"/>
<text x="555.80" y="945.60" font-size="10.4" text-anchor="middle" fill="#1c1c1c" letter-spacing="0">Fulani</text>
<line x1="605.20" x2="605.20" y1="927.6" y2="931.40" stroke="#4c4c4c" stroke-width="1.1"/>
<text x="604.90" y="944.60" font-size="11.3" text-anchor="middle" fill="#1c1c1c" letter-spacing="0.25">Siamou</text>
<line x1="652.20" x2="652.20" y1="927.6" y2="931.40" stroke="#4c4c4c" stroke-width="1.1"/>
<text x="652.60" y="944.60" font-size="11.3" text-anchor="middle" fill="#1c1c1c" letter-spacing="0.25">Toussian</text>
<text transform="translate(498.20,782.50) scale(1.0,1)" font-size="18.8" font-weight="bold" fill="#0a0a0a" letter-spacing="0.45">(l)</text>
<text x="670.30" y="777.10" font-size="13.8" text-anchor="end" fill="#1a1a1a"><tspan font-style="italic">p</tspan> = 0.122</text>
<line x1="67.20" x2="71.6" y1="919.60" y2="919.60" stroke="#4c4c4c" stroke-width="1.1"/>
<text x="63.0" y="924.90" font-size="11.3" text-anchor="end" fill="#1c1c1c">0.0</text>
<line x1="67.20" x2="71.6" y1="868.53" y2="868.53" stroke="#4c4c4c" stroke-width="1.1"/>
<text x="63.0" y="873.83" font-size="11.3" text-anchor="end" fill="#1c1c1c">0.5</text>
<line x1="67.20" x2="71.6" y1="817.47" y2="817.47" stroke="#4c4c4c" stroke-width="1.1"/>
<text x="63.0" y="822.77" font-size="11.3" text-anchor="end" fill="#1c1c1c">1.0</text>
<line x1="67.20" x2="71.6" y1="766.40" y2="766.40" stroke="#4c4c4c" stroke-width="1.1"/>
<text x="63.0" y="771.70" font-size="11.3" text-anchor="end" fill="#1c1c1c">1.5</text>
<path d="M647.2 170.2 C654 166.5 660 162.2 667 161.6 L685 161.3" fill="none" stroke="#555555" stroke-width="0.9"/>
<text x="363.1" y="249.6" font-size="16.6" text-anchor="middle" fill="#111111">Gender</text>
<text x="359.7" y="487.6" font-size="16.6" text-anchor="middle" fill="#111111">Age</text>
<text x="367.5" y="726.7" font-size="16.6" text-anchor="middle" fill="#111111" letter-spacing="0.1">Residence status</text>
<text x="375.7" y="973.3" font-size="16.6" text-anchor="middle" fill="#111111" letter-spacing="0.1">Ethnic group</text>
<text transform="translate(15.1,453.2) rotate(-90)" font-size="19" text-anchor="middle" fill="#111111" letter-spacing="0.1">Actual use-value</text>
</svg>
</body></html>
